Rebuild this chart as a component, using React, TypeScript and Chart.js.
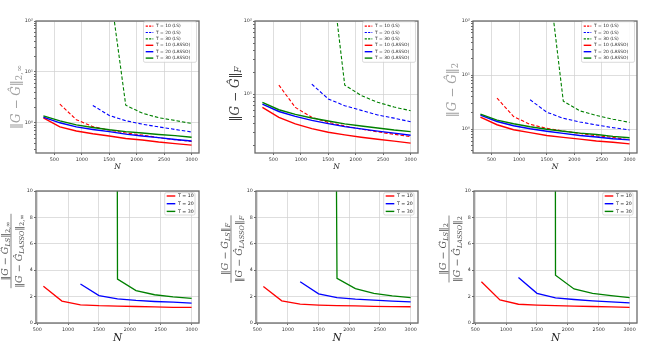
import React, { useEffect, useRef } from "react";
import { Chart, registerables } from "chart.js";
Chart.register(...registerables);

// ---------------- data ----------------
const N_LASSO = [300, 600, 900, 1200, 1500, 1800, 2100, 2400, 2700, 3000];
const N_T10 = [600, 900, 1200, 1500, 1800, 2100, 2400, 2700, 3000];
const N_T20 = [1200, 1500, 1800, 2100, 2400, 2700, 3000];
const N_T30 = [1500, 1800, 2100, 2400, 2700, 3000];

const X_TICKS = [500, 1000, 1500, 2000, 2500, 3000];
const RATIO_Y_TICKS = [0, 2, 4, 6, 8, 10];
const LOG_MAJOR = [1, 10, 100];
const LOG_MINOR = [0.2, 0.3, 0.4, 0.5, 0.6, 0.7, 0.8, 0.9, 2, 3, 4, 5, 6, 7, 8, 9, 20, 30, 40, 50, 60, 70, 80, 90];
const LOG_LABELS: Record<string, string> = { "1": "10⁰", "10": "10¹", "100": "10²" };

// ||G - Ĝ||_{2,inf}
const INF_LASSO_T10 = [1.25, 0.83, 0.69, 0.61, 0.55, 0.49, 0.46, 0.42, 0.39, 0.365];
const INF_LASSO_T20 = [1.29, 1.0, 0.83, 0.74, 0.67, 0.6, 0.55, 0.51, 0.47, 0.44];
const INF_LASSO_T30 = [1.37, 1.09, 0.91, 0.81, 0.73, 0.67, 0.63, 0.59, 0.56, 0.52];
const INF_LS_T10 = [2.32, 1.15, 0.84, 0.72, 0.63, 0.575, 0.51, 0.465, 0.43];
const INF_LS_T20 = [2.19, 1.39, 1.1, 0.94, 0.83, 0.74, 0.66];
const INF_LS_T30 = [540, 2.22, 1.55, 1.26, 1.11, 0.97];

// ||G - Ĝ||_F
const F_LASSO_T10 = [6.6, 4.82, 3.92, 3.38, 3.02, 2.78, 2.58, 2.42, 2.28, 2.14];
const F_LASSO_T20 = [7.3, 5.8, 4.97, 4.39, 3.96, 3.6, 3.35, 3.12, 2.93, 2.75];
const F_LASSO_T30 = [7.7, 6.13, 5.3, 4.72, 4.3, 3.92, 3.68, 3.45, 3.24, 3.08];
const F_LS_T10 = [13.3, 6.59, 4.83, 4.11, 3.67, 3.33, 3.05, 2.83, 2.63];
const F_LS_T20 = [13.7, 8.6, 6.95, 6.0, 5.2, 4.7, 4.2];
const F_LS_T30 = [1040, 13.3, 9.6, 7.73, 6.67, 5.94];

// ||G - Ĝ||_2
const S_LASSO_T10 = [1.66, 1.2, 0.97, 0.86, 0.76, 0.7, 0.65, 0.6, 0.57, 0.53];
const S_LASSO_T20 = [1.81, 1.38, 1.15, 1.01, 0.91, 0.83, 0.76, 0.71, 0.66, 0.63];
const S_LASSO_T30 = [1.89, 1.46, 1.25, 1.1, 0.99, 0.91, 0.84, 0.79, 0.73, 0.69];
const S_LS_T10 = [3.74, 1.7, 1.22, 1.03, 0.92, 0.83, 0.75, 0.7, 0.63];
const S_LS_T20 = [3.48, 2.05, 1.58, 1.35, 1.19, 1.06, 0.96];
const S_LS_T30 = [1200, 3.29, 2.17, 1.78, 1.52, 1.33];

// ratios LS / LASSO
const R_INF_T10 = [2.79, 1.66, 1.38, 1.31, 1.28, 1.25, 1.22, 1.19, 1.18];
const R_INF_T20 = [2.96, 2.08, 1.83, 1.71, 1.63, 1.58, 1.51];
const R_INF_T30 = [740, 3.32, 2.46, 2.14, 1.98, 1.86];
const R_F_T10 = [2.76, 1.68, 1.43, 1.36, 1.32, 1.29, 1.26, 1.24, 1.23];
const R_F_T20 = [3.12, 2.21, 1.93, 1.81, 1.73, 1.66, 1.6];
const R_F_T30 = [242, 3.39, 2.61, 2.24, 2.06, 1.93];
const R_S_T10 = [3.12, 1.75, 1.42, 1.35, 1.31, 1.28, 1.25, 1.22, 1.18];
const R_S_T20 = [3.45, 2.25, 1.9, 1.78, 1.68, 1.6, 1.52];
const R_S_T30 = [1212, 3.62, 2.58, 2.25, 2.08, 1.93];

// ---------------- styles ----------------
const RED = "#ff0000";
const BLUE = "#0000ff";
const GREEN = "#008000";
const SANS = "'DejaVu Sans', sans-serif";
const SERIF = "'DejaVu Serif', serif";
const GRID = "#d0d0d0";
const FRAME = "#6a6a6a";

type Series = { xs: number[]; ys: number[]; color: string; dashed: boolean; label: string; width: number };
type Run = { t: string; size: number; italic?: boolean; dy?: number };

interface PanelDef {
  key: string;
  plot: { l: number; t: number; r: number; b: number };
  log: boolean;
  xMin: number;
  xMax: number;
  yMin: number;
  yMax: number;
  series: Series[]; // in legend order
  legend: { dx: number; dy: number; w: number; h: number; row0: number; step: number; l0: number; l1: number; tx: number; fs: number };
  ylabel: { kind: "top" | "frac"; sub: string; subItalic: boolean; color: string; dx: number; dy: number };
  xlabelSize: number;
  xlabelDy: number;
}

const lsLassoSeries = (lasso: number[][], ls: number[][]): Series[] => [
  { xs: N_T10, ys: ls[0], color: RED, dashed: true, label: "T = 10 (LS)", width: 1.1 },
  { xs: N_T20, ys: ls[1], color: BLUE, dashed: true, label: "T = 20 (LS)", width: 1.1 },
  { xs: N_T30, ys: ls[2], color: GREEN, dashed: true, label: "T = 30 (LS)", width: 1.1 },
  { xs: N_LASSO, ys: lasso[0], color: RED, dashed: false, label: "T = 10 (LASSO)", width: 1.4 },
  { xs: N_LASSO, ys: lasso[1], color: BLUE, dashed: false, label: "T = 20 (LASSO)", width: 1.4 },
  { xs: N_LASSO, ys: lasso[2], color: GREEN, dashed: false, label: "T = 30 (LASSO)", width: 1.4 },
];
const ratioSeries = (r: number[][]): Series[] => [
  { xs: N_T10, ys: r[0], color: RED, dashed: false, label: "T = 10", width: 1.3 },
  { xs: N_T20, ys: r[1], color: BLUE, dashed: false, label: "T = 20", width: 1.3 },
  { xs: N_T30, ys: r[2], color: GREEN, dashed: false, label: "T = 30", width: 1.3 },
];

const TOP_LEGEND = { dx: 2.5, dy: 0.7, w: 53, h: 40.6, row0: 4.4, step: 6.4, l0: 2.2, l1: 9.8, tx: 12.5, fs: 4.4 };
const BOT_LEGEND = { dx: 4, dy: 1.7, w: 30.3, h: 22.3, row0: 3.3, step: 7.7, l0: 2, l1: 10.6, tx: 13.2, fs: 4.7 };

const PANELS: PanelDef[] = [
  {
    key: "inf", plot: { l: 36, t: 21, r: 199, b: 153 }, log: true, xMin: 165, xMax: 3135, yMin: 0.255, yMax: 100,
    series: lsLassoSeries([INF_LASSO_T10, INF_LASSO_T20, INF_LASSO_T30], [INF_LS_T10, INF_LS_T20, INF_LS_T30]),
    legend: TOP_LEGEND, ylabel: { kind: "top", sub: "2,∞", subItalic: false, color: "#a0a0a0", dx: -20, dy: 76 },
    xlabelSize: 7.5, xlabelDy: 14,
  },
  {
    key: "fro", plot: { l: 255, t: 21, r: 418, b: 153 }, log: true, xMin: 165, xMax: 3135, yMin: 1.57, yMax: 100,
    series: lsLassoSeries([F_LASSO_T10, F_LASSO_T20, F_LASSO_T30], [F_LS_T10, F_LS_T20, F_LS_T30]),
    legend: TOP_LEGEND, ylabel: { kind: "top", sub: "F", subItalic: true, color: "#3a3a3a", dx: -20, dy: 73 },
    xlabelSize: 7.5, xlabelDy: 14,
  },
  {
    key: "spec", plot: { l: 473, t: 21, r: 637, b: 153 }, log: true, xMin: 165, xMax: 3135, yMin: 0.36, yMax: 100,
    series: lsLassoSeries([S_LASSO_T10, S_LASSO_T20, S_LASSO_T30], [S_LS_T10, S_LS_T20, S_LS_T30]),
    legend: TOP_LEGEND, ylabel: { kind: "top", sub: "2", subItalic: false, color: "#a0a0a0", dx: -21, dy: 69 },
    xlabelSize: 7.5, xlabelDy: 14,
  },
  {
    key: "rinf", plot: { l: 36, t: 191, r: 199, b: 323 }, log: false, xMin: 480, xMax: 3120, yMin: 0, yMax: 10,
    series: ratioSeries([R_INF_T10, R_INF_T20, R_INF_T30]),
    legend: BOT_LEGEND, ylabel: { kind: "frac", sub: "2,∞", subItalic: false, color: "#505050", dx: -25, dy: 60 },
    xlabelSize: 10.5, xlabelDy: 15,
  },
  {
    key: "rfro", plot: { l: 256, t: 191, r: 418, b: 323 }, log: false, xMin: 480, xMax: 3120, yMin: 0, yMax: 10,
    series: ratioSeries([R_F_T10, R_F_T20, R_F_T30]),
    legend: BOT_LEGEND, ylabel: { kind: "frac", sub: "F", subItalic: true, color: "#505050", dx: -25, dy: 58 },
    xlabelSize: 10.5, xlabelDy: 15,
  },
  {
    key: "rspec", plot: { l: 474, t: 191, r: 637, b: 323 }, log: false, xMin: 480, xMax: 3120, yMin: 0, yMax: 10,
    series: ratioSeries([R_S_T10, R_S_T20, R_S_T30]),
    legend: BOT_LEGEND, ylabel: { kind: "frac", sub: "2", subItalic: false, color: "#505050", dx: -25, dy: 58 },
    xlabelSize: 10.5, xlabelDy: 15,
  },
];

const PAD_L = 36, PAD_R = 6, PAD_T = 16, PAD_B = 20;

// ---------------- drawing helpers ----------------
function runFont(r: Run) {
  return `${r.italic ? "italic " : ""}${r.size}px ${SERIF}`;
}
function drawRuns(ctx: CanvasRenderingContext2D, runs: Run[], cx: number, baseY: number) {
  let total = 0;
  const ws = runs.map((r) => {
    ctx.font = runFont(r);
    const w = ctx.measureText(r.t).width;
    total += w;
    return w;
  });
  let x = cx - total / 2;
  runs.forEach((r, i) => {
    ctx.font = runFont(r);
    ctx.fillText(r.t, x, baseY + (r.dy || 0));
    x += ws[i];
  });
  return total;
}

function normRuns(size: number, subSize: number, sub: string, subItalic: boolean, inner?: string): Run[] {
  const runs: Run[] = [
    { t: "‖", size },
    { t: "G", size, italic: true },
    { t: " − ", size },
    { t: "Ĝ", size, italic: true },
  ];
  if (inner) runs.push({ t: inner, size: subSize, italic: true, dy: subSize * 0.35 });
  runs.push({ t: "‖", size });
  runs.push({ t: sub, size: subSize, italic: subItalic, dy: subSize * 0.35 });
  return runs;
}

function makeOverlay(p: PanelDef) {
  return {
    id: "overlay_" + p.key,
    afterDatasetsDraw(chart: any) {
      const ctx: CanvasRenderingContext2D = chart.ctx;
      const a = chart.chartArea;
      ctx.save();
      // frame
      ctx.strokeStyle = FRAME;
      ctx.lineWidth = 1.3;
      ctx.setLineDash([]);
      ctx.strokeRect(a.left, a.top, a.right - a.left, a.bottom - a.top);
      // legend
      const lg = p.legend;
      const right = a.right - lg.dx;
      const top = a.top + lg.dy;
      const left = right - lg.w;
      ctx.beginPath();
      const rr = 1.5;
      ctx.moveTo(left + rr, top);
      ctx.lineTo(right - rr, top);
      ctx.quadraticCurveTo(right, top, right, top + rr);
      ctx.lineTo(right, top + lg.h - rr);
      ctx.quadraticCurveTo(right, top + lg.h, right - rr, top + lg.h);
      ctx.lineTo(left + rr, top + lg.h);
      ctx.quadraticCurveTo(left, top + lg.h, left, top + lg.h - rr);
      ctx.lineTo(left, top + rr);
      ctx.quadraticCurveTo(left, top, left + rr, top);
      ctx.closePath();
      ctx.fillStyle = "rgba(255,255,255,0.85)";
      ctx.fill();
      ctx.strokeStyle = "#cccccc";
      ctx.lineWidth = 0.7;
      ctx.stroke();
      p.series.forEach((s, i) => {
        const y = top + lg.row0 + i * lg.step;
        ctx.beginPath();
        ctx.strokeStyle = s.color;
        ctx.lineWidth = s.dashed ? 1.1 : 1.4;
        ctx.setLineDash(s.dashed ? [2.2, 1.2] : []);
        ctx.moveTo(left + lg.l0, y);
        ctx.lineTo(left + lg.l1, y);
        ctx.stroke();
        ctx.setLineDash([]);
        ctx.fillStyle = "#222222";
        ctx.font = `${lg.fs}px ${SANS}`;
        ctx.textAlign = "left";
        ctx.textBaseline = "middle";
        ctx.fillText(s.label, left + lg.tx, y);
      });
      ctx.restore();
    },
    afterDraw(chart: any) {
      const ctx: CanvasRenderingContext2D = chart.ctx;
      const a = chart.chartArea;
      ctx.save();
      // x label
      ctx.fillStyle = "#222222";
      ctx.font = `italic ${p.xlabelSize}px ${SERIF}`;
      ctx.textAlign = "center";
      ctx.textBaseline = "middle";
      ctx.fillText("N", (a.left + a.right) / 2, a.bottom + p.xlabelDy);
      // y label
      const yl = p.ylabel;
      ctx.translate(a.left + yl.dx, a.top + yl.dy);
      ctx.rotate(-Math.PI / 2);
      ctx.fillStyle = yl.color;
      ctx.strokeStyle = yl.color;
      ctx.textAlign = "left";
      ctx.textBaseline = "alphabetic";
      if (yl.kind === "top") {
        drawRuns(ctx, normRuns(12, 8.5, yl.sub, yl.subItalic), 0, 3.5);
      } else {
        const w1 = drawRuns(ctx, normRuns(9.5, 6.5, yl.sub, yl.subItalic, "LS"), 0, -3.2);
        const w2 = drawRuns(ctx, normRuns(9.5, 6.5, yl.sub, yl.subItalic, "LASSO"), 0, 10.5);
        const w = Math.max(w1, w2) + 1;
        ctx.beginPath();
        ctx.lineWidth = 0.7;
        ctx.moveTo(-w / 2, 0);
        ctx.lineTo(w / 2, 0);
        ctx.stroke();
      }
      ctx.restore();
    },
  };
}

function buildConfig(p: PanelDef): any {
  // Chart.js draws dataset index 0 last (on top): reverse legend order so LASSO sits on top
  const datasets = p.series
    .map((s) => ({
      label: s.label,
      data: s.xs.map((x, i) => ({ x, y: s.ys[i] })),
      borderColor: s.color,
      backgroundColor: s.color,
      borderWidth: s.width,
      borderDash: s.dashed ? [3.5, 2] : [],
      pointRadius: 0,
      tension: 0,
      fill: false,
    }))
    .reverse();

  const gridBase = {
    lineWidth: 0.7,
    borderDash: [2.5, 2],
    tickLength: 2,
    tickWidth: 0.8,
    tickBorderDash: [],
    tickColor: "#444444",
  };

  return {
    type: "line",
    data: { datasets },
    options: {
      responsive: false,
      animation: false,
      devicePixelRatio: 1,
      events: [],
      layout: { padding: { left: 0, right: PAD_R, top: PAD_T, bottom: 0 }, autoPadding: false },
      plugins: { legend: { display: false }, tooltip: { enabled: false }, title: { display: false } },
      scales: {
        x: {
          type: "linear",
          min: p.xMin,
          max: p.xMax,
          bounds: "data",
          afterBuildTicks: (s: any) => {
            s.ticks = X_TICKS.map((v) => ({ value: v }));
          },
          afterFit: (s: any) => {
            s.height = PAD_B;
            s.paddingLeft = 0;
            s.paddingRight = 0;
          },
          ticks: {
            autoSkip: false,
            maxRotation: 0,
            minRotation: 0,
            padding: 1.5,
            color: "#333333",
            font: { family: SANS, size: 4.8 },
            callback: (v: number) => String(v),
          },
          grid: { ...gridBase, color: GRID },
          border: { display: false },
        },
        y: {
          type: p.log ? "logarithmic" : "linear",
          min: p.yMin,
          max: p.yMax,
          bounds: "data",
          afterBuildTicks: (s: any) => {
            if (p.log) {
              const maj = LOG_MAJOR.filter((v) => v >= p.yMin && v <= p.yMax).map((v) => ({ value: v, mj: true }));
              const mnr = LOG_MINOR.filter((v) => v >= p.yMin && v <= p.yMax).map((v) => ({ value: v, mj: false }));
              s.ticks = [...maj, ...mnr].sort((a, b) => a.value - b.value);
            } else {
              s.ticks = RATIO_Y_TICKS.map((v) => ({ value: v, mj: true }));
            }
          },
          afterFit: (s: any) => {
            s.width = PAD_L;
            s.paddingTop = 0;
            s.paddingBottom = 0;
          },
          ticks: {
            autoSkip: false,
            padding: 1.2,
            color: "#333333",
            font: { family: SANS, size: 4.8 },
            callback: (v: number) => (p.log ? LOG_LABELS[String(v)] ?? "" : String(v)),
          },
          grid: {
            ...gridBase,
            color: (c: any) => (c.tick && c.tick.mj === false ? "rgba(0,0,0,0)" : GRID),
          },
          border: { display: false },
        },
      },
    },
    plugins: [makeOverlay(p)],
  };
}

function Panel({ p }: { p: PanelDef }) {
  const ref = useRef<HTMLCanvasElement>(null);
  const w = p.plot.r - p.plot.l + PAD_L + PAD_R;
  const h = p.plot.b - p.plot.t + PAD_T + PAD_B;
  useEffect(() => {
    const chart = new Chart(ref.current as HTMLCanvasElement, buildConfig(p));
    return () => chart.destroy();
  }, []);
  return (
    <canvas
      ref={ref}
      width={w}
      height={h}
      style={{ position: "absolute", left: p.plot.l - PAD_L, top: p.plot.t - PAD_T, width: w, height: h }}
    />
  );
}

export default function App() {
  return (
    <div style={{ position: "absolute", left: 0, top: 0, width: 658, height: 343, background: "#ffffff", overflow: "hidden" }}>
      {PANELS.map((p) => (
        <Panel key={p.key} p={p} />
      ))}
    </div>
  );
}
